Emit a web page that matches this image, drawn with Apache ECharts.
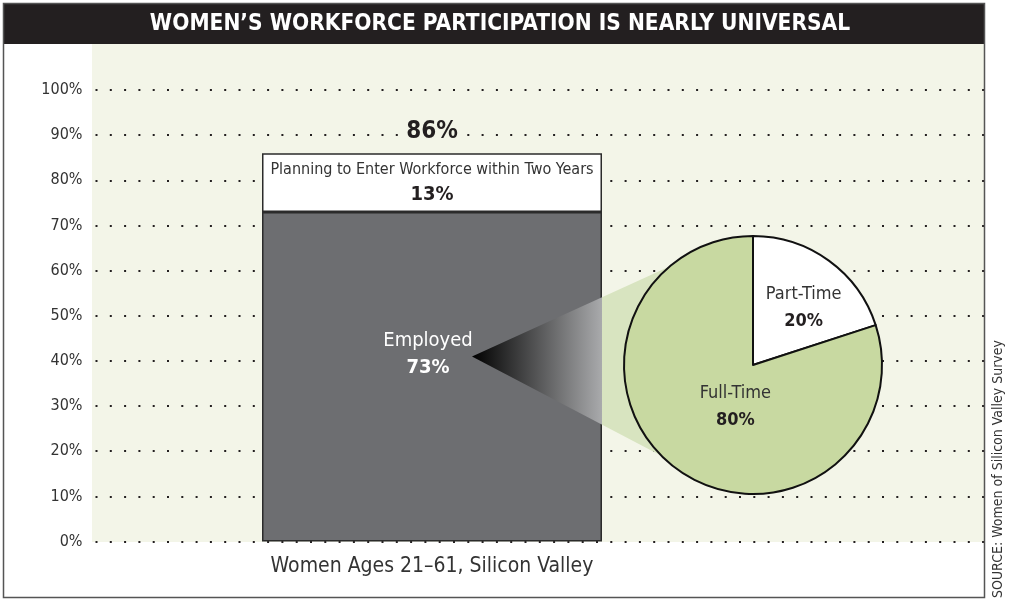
<!DOCTYPE html>
<html>
<head>
<meta charset="utf-8">
<title>Women's Workforce Participation</title>
<script src="https://cdn.jsdelivr.net/npm/echarts@6/dist/echarts.min.js"></script>
<style>
html,body{margin:0;padding:0;background:#fff;}
#chart{width:1011px;height:601px;}
</style>
</head>
<body>
<div id="chart"></div>
<script>
// 数据
var categories = ['Women Ages 21–61, Silicon Valley'];
var employed = [73];
var planning = [13];
var pieNames = ['Part-Time', 'Full-Time'];
var pieValues = [20, 80];
var yMin = 0, yMax = 100, yStep = 10;

var FONT = "'Liberation Sans Narrow', 'DejaVu Sans Condensed', sans-serif";
var TXT = '#333333';

// 布局
var plotTop = 90, plotBottom = 59.5;
var barLeft = 262, barWidth = 340;
var pieCenter = [753, 365], pieRadius = 129;
var pieLabelShift = [[5.5, -1.5], [11, -6.5]];

var chart = echarts.init(document.getElementById('chart'));

var option = {
    animation: false,
    grid: [
        {left: 95.5, right: 27, top: plotTop, bottom: plotBottom},
        {left: barLeft, width: barWidth, top: plotTop, bottom: plotBottom}
    ],
    xAxis: [
        {gridIndex: 0, type: 'value', min: 0, max: 1, show: false},
        {
            gridIndex: 1, type: 'category', data: categories,
            axisLine: {show: false}, axisTick: {show: false},
            axisLabel: {fontFamily: FONT, fontSize: 21, color: TXT, margin: 15}
        }
    ],
    yAxis: [
        {
            gridIndex: 0, type: 'value', min: yMin, max: yMax, interval: yStep,
            axisLine: {show: false}, axisTick: {show: false},
            axisLabel: {formatter: '{value}%', fontFamily: FONT, fontSize: 16, color: TXT, margin: 13},
            splitLine: {lineStyle: {color: '#231f20', width: 2, type: [2, 12.3]}}
        },
        {gridIndex: 1, type: 'value', min: yMin, max: yMax, show: false}
    ],
    series: [
        {
            name: 'Employed', type: 'bar', xAxisIndex: 1, yAxisIndex: 1,
            stack: 'total', barWidth: '100%', data: employed, z: 2,
            itemStyle: {color: '#6d6e71', borderColor: '#2b2b2b', borderWidth: 1.5},
            label: {
                show: true, position: 'inside', offset: [-4, -22],
                formatter: function (p) { return '{n|Employed}\n{v|' + p.value + '%}'; },
                rich: {
                    n: {fontFamily: FONT, fontSize: 20, color: '#fff', lineHeight: 27},
                    v: {fontFamily: FONT, fontSize: 20, fontWeight: 'bold', color: '#fff', lineHeight: 27}
                }
            }
        },
        {
            name: 'Planning', type: 'bar', xAxisIndex: 1, yAxisIndex: 1,
            stack: 'total', barWidth: '100%', data: planning, z: 2,
            itemStyle: {color: '#ffffff', borderColor: '#2b2b2b', borderWidth: 1.5},
            label: {
                show: true, position: 'inside',
                formatter: function (p) { return '{n|Planning to Enter Workforce within Two Years}\n{v|' + p.value + '%}'; },
                rich: {
                    n: {fontFamily: FONT, fontSize: 16, color: TXT, lineHeight: 25},
                    v: {fontFamily: FONT, fontSize: 20, fontWeight: 'bold', color: '#231f20', lineHeight: 25}
                }
            }
        },
        {
            name: 'Total', type: 'bar', xAxisIndex: 1, yAxisIndex: 1,
            stack: 'total', barWidth: '100%', data: [0], silent: true, z: 2,
            itemStyle: {color: 'transparent', borderWidth: 0},
            label: {
                show: true, position: 'top', distance: 9,
                formatter: function () { return (employed[0] + planning[0]) + '%'; },
                fontFamily: FONT, fontSize: 24, fontWeight: 'bold', color: '#231f20',
                backgroundColor: '#f3f5e8', padding: [0, 4]
            }
        },
        {
            name: 'Employment', type: 'pie', z: 4,
            center: pieCenter, radius: pieRadius, startAngle: 90, clockwise: true,
            data: pieNames.map(function (n, i) {
                return {name: n, value: pieValues[i], itemStyle: {color: i === 0 ? '#ffffff' : '#c8d9a1'}};
            }),
            itemStyle: {borderColor: '#111', borderWidth: 2},
            labelLine: {show: false},
            label: {
                show: true, position: 'inside',
                formatter: '{n|{b}}\n{v|{c}%}',
                rich: {
                    n: {fontFamily: FONT, fontSize: 18, color: TXT, lineHeight: 27},
                    v: {fontFamily: FONT, fontSize: 18, fontWeight: 'bold', color: '#231f20', lineHeight: 27}
                }
            },
            labelLayout: function (p) {
                var s = pieLabelShift[p.dataIndex];
                return {dx: s[0], dy: s[1]};
            },
            emphasis: {disabled: true}
        }
    ],
    graphic: [
        {type: 'rect', z: -10, silent: true, shape: {x: 92, y: 44, width: 892, height: 498}, style: {fill: '#f3f5e8'}},
        {type: 'rect', z: 20, silent: true, shape: {x: 3, y: 3, width: 981, height: 41}, style: {fill: '#231f20'}},
        {
            type: 'text', z: 21, silent: true, x: 500, y: 24,
            style: {
                text: 'WOMEN\u2019S WORKFORCE PARTICIPATION IS NEARLY UNIVERSAL',
                fill: '#fff', font: 'bold 22.5px ' + FONT, align: 'center', verticalAlign: 'middle'
            }
        },
        {type: 'rect', z: 22, silent: true, shape: {x: 3.5, y: 3.5, width: 981, height: 594}, style: {fill: 'none', stroke: '#555', lineWidth: 1.5}},
        {
            type: 'text', z: 21, silent: true, x: 998, y: 469, rotation: Math.PI / 2,
            style: {
                text: 'SOURCE: Women of Silicon Valley Survey',
                fill: TXT, font: '14px ' + FONT, align: 'center', verticalAlign: 'middle'
            }
        }
    ]
};
chart.setOption(option);

// 锥形连接：从柱子到饼图
var tip = chart.convertToPixel({xAxisIndex: 1, yAxisIndex: 1}, [categories[0], 41]);
var tipX = tip[0] + 40, tipY = tip[1];
var farX = pieCenter[0] - 0.26 * pieRadius;
var upY = pieCenter[1] - 0.94 * pieRadius, lowY = pieCenter[1] + 0.94 * pieRadius;
var edgeX = barLeft + barWidth;
var t = (edgeX - tipX) / (farX - tipX);
chart.setOption({
    graphic: [{
        id: 'cone', type: 'polygon', z: 3, silent: true,
        shape: {points: [[tipX, tipY], [farX, upY], [farX, lowY]]},
        style: {
            fill: new echarts.graphic.LinearGradient(0, 0, 1, 0, [
                {offset: 0, color: '#000000'},
                {offset: t, color: '#a9aaac'},
                {offset: t, color: '#d8e4c0'},
                {offset: 1, color: '#d8e4c0'}
            ])
        }
    }]
});
</script>
</body>
</html>
